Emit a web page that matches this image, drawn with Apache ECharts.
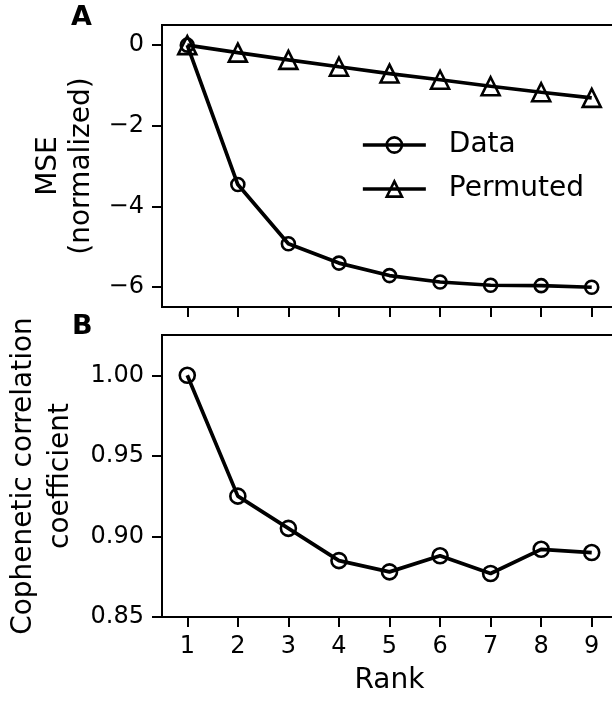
<!DOCTYPE html>
<html>
<head>
<meta charset="utf-8">
<script src="https://cdn.jsdelivr.net/npm/echarts@6/dist/echarts.min.js"></script>
<style>
  html, body { margin: 0; padding: 0; background: #fff; }
  #chart { width: 612px; height: 702px; }
</style>
</head>
<body>
<div id="chart"></div>
<script>
// Model rank on the x axis
const ranks = ['1', '2', '3', '4', '5', '6', '7', '8', '9'];

// Panel A: normalized reconstruction error
const mseData = [0, -3.46, -4.93, -5.41, -5.72, -5.88, -5.96, -5.97, -6.01];
const msePermuted = [0, -0.185, -0.366, -0.536, -0.705, -0.86, -1.02, -1.17, -1.31];
const mseTicks = [-6, -4, -2, 0];

// Panel B: cophenetic correlation coefficient
const cophData = [1.0, 0.925, 0.905, 0.885, 0.878, 0.888, 0.877, 0.892, 0.890];
const cophTicks = [0.85, 0.90, 0.95, 1.00];

const FONT = 'DejaVu Sans';
const INK = '#000';
const SPINE = 2;

const chart = echarts.init(document.getElementById('chart'), null, { renderer: 'canvas' });

const tickFont = { fontFamily: FONT, fontSize: 24, color: INK };
const nameFont = { fontFamily: FONT, fontSize: 28, color: INK };

function yAxisBase(grid, min, max, ticks, fmt, name, gap, lh) {
  return {
    type: 'value', gridIndex: grid, min: min, max: max,
    name: name, nameLocation: 'middle', nameRotate: 90, nameGap: gap,
    nameTextStyle: Object.assign({ lineHeight: lh, align: 'center' }, nameFont),
    axisLine: { show: true, lineStyle: { color: INK, width: SPINE } },
    axisTick: { show: true, length: 10, lineStyle: { color: INK, width: SPINE }, customValues: ticks },
    axisLabel: Object.assign({ margin: 18, formatter: fmt, customValues: ticks }, tickFont),
    splitLine: { show: false }
  };
}

function xAxisBase(grid, showLabels) {
  return {
    type: 'category', gridIndex: grid, data: ranks, boundaryGap: true,
    axisLine: { show: true, onZero: false, lineStyle: { color: INK, width: SPINE } },
    axisTick: { show: true, alignWithLabel: true, length: 10, lineStyle: { color: INK, width: SPINE } },
    axisLabel: Object.assign({ show: showLabels, margin: 18 }, tickFont),
    splitLine: { show: false }
  };
}

const lineStyle = { color: INK, width: 3.7 };
const markStyle = { color: 'transparent', borderColor: INK, borderWidth: 2.6 };

const gridBase = {
  left: 162, width: 455, height: 282, show: true,
  borderColor: INK, borderWidth: SPINE, backgroundColor: 'transparent',
  outerBoundsMode: 'none', containLabel: false
};

const option = {
  backgroundColor: '#fff',
  animation: false,
  title: [
    { text: 'A', left: 71, top: 4, padding: 0, textStyle: { fontFamily: FONT, fontSize: 27, fontWeight: 'bold', color: INK } },
    { text: 'B', left: 72, top: 313, padding: 0, textStyle: { fontFamily: FONT, fontSize: 27, fontWeight: 'bold', color: INK } }
  ],
  grid: [
    Object.assign({ top: 25 }, gridBase),
    Object.assign({ top: 335 }, gridBase)
  ],
  legend: {
    orient: 'vertical', left: 356, top: 126, itemWidth: 63, itemHeight: 19, itemGap: 16,
    data: ['Data', 'Permuted'],
    lineStyle: { color: INK, width: 3.7 },
    itemStyle: { color: 'transparent', borderColor: INK, borderWidth: 2.6 },
    textStyle: Object.assign({ padding: [0, 0, 0, 18] }, nameFont)
  },
  xAxis: [
    xAxisBase(0, false),
    Object.assign(xAxisBase(1, true), {
      name: 'Rank', nameLocation: 'middle', nameGap: 50, nameTextStyle: nameFont
    })
  ],
  yAxis: [
    yAxisBase(0, -6.5, 0.5, mseTicks,
      v => (v < 0 ? '\u2212' + Math.abs(v) : String(v)),
      'MSE\n(normalized)', 63, 33),
    yAxisBase(1, 0.85, 1.025, cophTicks,
      v => v.toFixed(2),
      'Cophenetic correlation\ncoefficient', 80, 37)
  ],
  series: [
    {
      name: 'Data', type: 'line', xAxisIndex: 0, yAxisIndex: 0, data: mseData,
      symbol: 'circle', symbolSize: 13, showAllSymbol: true,
      lineStyle: lineStyle, itemStyle: markStyle, z: 3
    },
    {
      name: 'Permuted', type: 'line', xAxisIndex: 0, yAxisIndex: 0, data: msePermuted,
      symbol: 'triangle', symbolSize: 18, showAllSymbol: true,
      lineStyle: lineStyle, itemStyle: markStyle, z: 2
    },
    {
      name: 'Cophenetic', type: 'line', xAxisIndex: 1, yAxisIndex: 1, data: cophData,
      symbol: 'circle', symbolSize: 15, showAllSymbol: true,
      lineStyle: lineStyle, itemStyle: markStyle
    }
  ]
};

chart.setOption(option);
</script>
</body>
</html>
